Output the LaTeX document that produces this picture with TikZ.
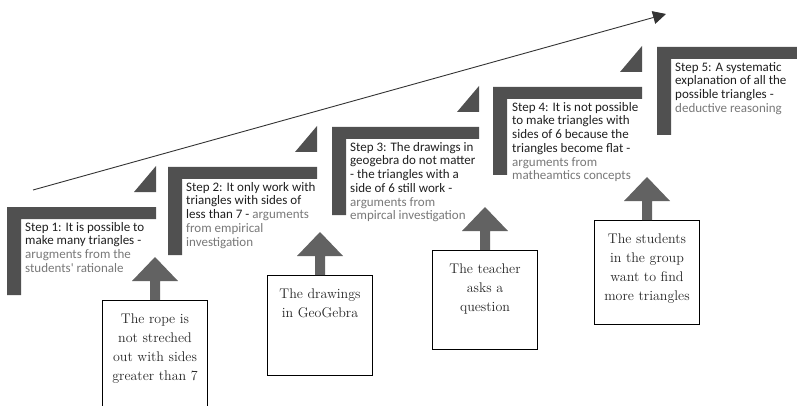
\documentclass[tikz,border=0pt]{standalone}
\usepackage{fontspec}
\newfontfamily\stepfont{Carlito}
\usetikzlibrary{arrows.meta,calc}
\definecolor{stepgray}{RGB}{80,80,80}
\definecolor{arrowgray}{RGB}{98,98,98}
\definecolor{argtext}{RGB}{120,120,120}
\begin{document}
\begin{tikzpicture}[x=1pt,y=-1pt,
  stepbar/.style={fill=stepgray},
  steptext/.style={anchor=north west, inner sep=0pt, align=left, text=black!88,
    font=\stepfont\fontsize{13}{13.7}\selectfont},
  srcbox/.style={draw=black, line width=0.8pt, minimum width=105pt, anchor=north, inner sep=0pt},
  srctext/.style={anchor=north, inner sep=0pt, align=center, text=black!85,
    font=\fontsize{14}{19}\selectfont},
  blockarrow/.style={fill=arrowgray},
  trend/.style={line width=0.9pt, draw=black!80, -{Triangle[length=13pt,width=13pt]}}]
\useasboundingbox (0,0) rectangle (797,406);

% trend arrow
\coordinate (tstart) at (33,190);
\coordinate (tend) at (666,14);
\draw[trend] (tstart) -- (tend);

% steps (corner shapes and triangles)
\foreach \lx/\ty/\rx in {7/207/156, 168/167/317, 332/127/479, 493/87/642}{
  \fill[stepbar] (\lx,\ty) -- (\rx,\ty) -- (\rx,\ty+12) -- (\lx+14,\ty+12)
     -- (\lx+14,\ty+88) -- (\lx,\ty+88) -- cycle;
  \fill[stepbar] (\rx,\ty-15) -- (\rx-22,\ty-15) -- (\rx,\ty-41) -- cycle;
}
\fill[stepbar] (657,47) -- (800,47) -- (800,59) -- (671,59) -- (671,135) -- (657,135) -- cycle;

% step texts
\node[steptext] (s1) at (25,222) {Step 1: It is possible to\\make many triangles -\\\textcolor{argtext}{arugments from the}\\\textcolor{argtext}{students' rationale}};
\node[steptext] (s2) at (186,182) {Step 2: It only work with\\triangles with sides of\\less than 7 - \textcolor{argtext}{arguments}\\\textcolor{argtext}{from empirical}\\\textcolor{argtext}{investigation}};
\node[steptext] (s3) at (350,142) {Step 3: The drawings in\\geogebra do not matter\\- the triangles with a\\side of 6 still work -\\\textcolor{argtext}{arguments from}\\\textcolor{argtext}{empircal investigation}};
\node[steptext] (s4) at (512,102) {Step 4: It is not possible\\to make triangles with\\sides of 6 because the\\triangles become flat -\\\textcolor{argtext}{arguments from}\\\textcolor{argtext}{matheamtics concepts}};
\node[steptext] (s5) at (675,62) {Step 5: A systematic\\explanation of all the\\possible triangles -\\\textcolor{argtext}{deductive reasoning}};

% source boxes
\node[srcbox, minimum height=112pt] (b1) at (155,300) {};
\node[srcbox, minimum height=100pt] (b2) at (320,275) {};
\node[srcbox, minimum height=99pt] (b3) at (485,250) {};
\node[srcbox, minimum height=104pt] (b4) at (647,220) {};

\node[srctext] (t1) at ($(b1.north)+(0,14)$) {The rope is\\not streched\\out with sides\\greater than 7};
\node[srctext] (t2) at ($(b2.north)+(0,14)$) {The drawings\\in GeoGebra};
\node[srctext] (t3) at ($(b3.north)+(0,14)$) {The teacher\\asks a\\question};
\node[srctext] (t4) at ($(b4.north)+(0,14)$) {The students\\in the group\\want to find\\more triangles};

% block arrows
\foreach \b in {b1,b2,b3,b4}{
  \fill[blockarrow] ($(\b.north)+(-5,0)$) -- ($(\b.north)+(-5,-19)$) -- ($(\b.north)+(-23,-19)$)
    -- ($(\b.north)+(0,-43)$) -- ($(\b.north)+(23,-19)$) -- ($(\b.north)+(5,-19)$)
    -- ($(\b.north)+(5,0)$) -- cycle;
}
\end{tikzpicture}
\end{document}
